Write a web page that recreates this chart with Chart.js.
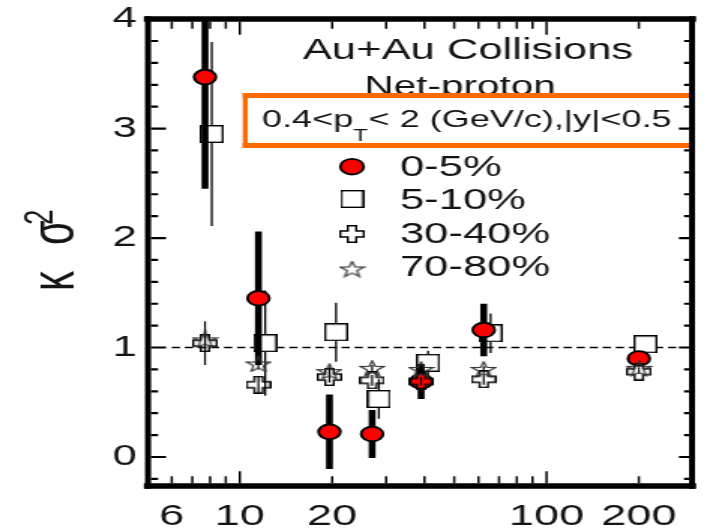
<!DOCTYPE html>
<html>
<head>
<meta charset="utf-8">
<script src="https://cdn.jsdelivr.net/npm/chart.js@4.4.0/dist/chart.umd.min.js"></script>
<style>
  html, body { margin: 0; padding: 0; background: #fff; overflow: hidden; }
  /* the original figure is stretched sideways, so the whole chart is too */
  #wrap { position: absolute; left: 0; top: 0; width: 471px; height: 532px;
          transform: scaleX(1.50106); transform-origin: 0 0; }
</style>
</head>
<body>
<div id="wrap"><canvas id="kurtosis"></canvas></div>
<script>
// collision energies (GeV)
const energies = [7.7, 11.5, 19.6, 27, 39, 62.4, 200];
const energiesShifted = [8.1, 12.1, 20.6, 28.4, 41.1, 65.7, 210]; // 5-10% sits a bit right

const kurt0to5   = [3.47, 1.45, 0.23, 0.21, 0.69, 1.16, 0.90];
const err0to5    = [1.02, 0.61, 0.34, 0.22, 0.16, 0.24, 0.06];
const kurt5to10  = [2.95, 1.04, 1.14, 0.53, 0.86, 1.13, 1.03];
const err5to10   = [0.84, 0.48, 0.27, 0.18, 0.11, 0.18, 0.07];
const kurt30to40 = [1.04, 0.66, 0.73, 0.70, 0.69, 0.71, 0.78];
const err30to40  = [0.20, 0.08, 0.05, 0.05, 0.04, 0.05, 0.02];
const kurt70to80 = [1.07, 0.85, 0.78, 0.81, 0.80, 0.80, 0.81];
const err70to80  = [0.10, 0.05, 0.04, 0.03, 0.03, 0.03, 0.01];

const refLineX = [6, 265];
const refLineY = [1, 1];

const xLabelTicks = [6, 10, 20, 100, 200];
const xMajorTicks = [10, 100];
const xMinorTicks = [6, 7, 8, 9, 20, 30, 40, 50, 60, 70, 80, 90, 200];
const yLabelTicks = [0, 1, 2, 3, 4];
const yMinorTicks = [-0.2, 0.2, 0.4, 0.6, 0.8, 1.2, 1.4, 1.6, 1.8, 2.2, 2.4, 2.6, 2.8, 3.2, 3.4, 3.6, 3.8];

const legendLabels = ['0-5%', '5-10%', '30-40%', '70-80%'];

const SX = 707 / 471;           // sideways stretch of the wrapper
const FONT = '"Liberation Sans", Arial, sans-serif';
const INK = '#141414';

function toPts(xs, ys) {
  return xs.map((x, i) => ({ x: x, y: ys[i] }));
}

// marker pictures
function makeSquare() {
  const c = document.createElement('canvas');
  c.width = 16; c.height = 18;
  const g = c.getContext('2d');
  g.fillStyle = '#fff';
  g.fillRect(0.7, 0.7, 14.6, 16.6);
  g.strokeStyle = '#000';
  g.lineWidth = 1.4;
  g.strokeRect(0.7, 0.7, 14.6, 16.6);
  return c;
}

function makeCross() {
  const c = document.createElement('canvas');
  c.width = 17; c.height = 18;
  const g = c.getContext('2d');
  const w = 15.6, h = 16.6, ax = 5.6, ay = 6, ox = 0.7, oy = 0.7;
  const x1 = ox + (w - ax) / 2, x2 = x1 + ax;
  const y1 = oy + (h - ay) / 2, y2 = y1 + ay;
  g.beginPath();
  g.moveTo(x1, oy); g.lineTo(x2, oy); g.lineTo(x2, y1); g.lineTo(ox + w, y1);
  g.lineTo(ox + w, y2); g.lineTo(x2, y2); g.lineTo(x2, oy + h); g.lineTo(x1, oy + h);
  g.lineTo(x1, y2); g.lineTo(ox, y2); g.lineTo(ox, y1); g.lineTo(x1, y1);
  g.closePath();
  g.strokeStyle = '#000';
  g.lineWidth = 1.4;
  g.stroke();
  return c;
}

function makeStar() {
  const c = document.createElement('canvas');
  c.width = 18; c.height = 17;
  const g = c.getContext('2d');
  const cx = 9, cy = 9.2, R = 8.2, r = 3.4;
  g.beginPath();
  for (let i = 0; i < 10; i++) {
    const rad = i % 2 === 0 ? R : r;
    const a = -Math.PI / 2 + i * Math.PI / 5;
    const px = cx + rad * Math.cos(a), py = cy + rad * Math.sin(a);
    if (i === 0) g.moveTo(px, py); else g.lineTo(px, py);
  }
  g.closePath();
  g.strokeStyle = '#333';
  g.lineWidth = 1.2;
  g.stroke();
  return c;
}

const squareImg = makeSquare();
const crossImg = makeCross();
const starImg = makeStar();

// error bars go under each dataset's own markers
const errorBars = {
  id: 'errorBars',
  beforeDatasetDraw(chart, args) {
    const ds = chart.data.datasets[args.index];
    if (!ds.errors) return;
    const ctx = chart.ctx, a = chart.chartArea;
    const xs = chart.scales.x, ys = chart.scales.y;
    ctx.save();
    ctx.beginPath();
    ctx.rect(a.left, a.top, a.right - a.left, a.bottom - a.top);
    ctx.clip();
    ctx.strokeStyle = '#000';
    ctx.lineWidth = ds.errWidth;
    ds.data.forEach((p, i) => {
      const px = xs.getPixelForValue(p.x);
      ctx.beginPath();
      ctx.moveTo(px, ys.getPixelForValue(p.y - ds.errors[i]));
      ctx.lineTo(px, ys.getPixelForValue(p.y + ds.errors[i]));
      ctx.stroke();
    });
    ctx.restore();
  }
};

// texts, box, legend, frame and ticks
const decorations = {
  id: 'decorations',
  afterDraw(chart) {
    const ctx = chart.ctx, a = chart.chartArea;
    const xs = chart.scales.x, ys = chart.scales.y;
    ctx.save();
    ctx.fillStyle = INK;
    ctx.textBaseline = 'alphabetic';

    ctx.textAlign = 'center';
    ctx.font = '29px ' + FONT;
    ctx.fillText('Au+Au Collisions', 468 / SX, 58.5);
    ctx.font = '27px ' + FONT;
    ctx.fillText('Net-proton', 460 / SX, 94.5);

    // orange box
    const bl = 242.7 / SX, br = 694 / SX, bt = 93, bb = 148;
    ctx.fillStyle = '#fff';
    ctx.fillRect(bl, bt, br - bl, bb - bt);
    ctx.fillStyle = '#ff6a00';
    ctx.fillRect(bl, bt, br - bl, 5);
    ctx.fillRect(bl, bb - 5, br - bl, 5);
    ctx.fillRect(bl, bt, 5 / SX, bb - bt);
    ctx.fillRect(br - 5 / SX, bt, 5 / SX, bb - bt);

    ctx.fillStyle = INK;
    ctx.textAlign = 'left';
    let tx = 262 / SX;
    ctx.font = '24px ' + FONT;
    ctx.fillText('0.4<p', tx, 127);
    tx += ctx.measureText('0.4<p').width;
    ctx.font = '16px ' + FONT;
    ctx.fillText('T', tx, 141);
    tx += ctx.measureText('T').width + 0.5;
    ctx.font = '24px ' + FONT;
    ctx.fillText('< 2 (GeV/c),|y|<0.5', tx, 127);

    // legend
    const lx = 352 / SX;
    const symY = [166.7, 199, 234, 269];
    const textY = [176, 209, 243, 276];
    ctx.beginPath();
    ctx.arc(lx, symY[0], 7.8, 0, Math.PI * 2);
    ctx.fillStyle = '#ff0000';
    ctx.fill();
    ctx.lineWidth = 1.8;
    ctx.strokeStyle = '#000';
    ctx.stroke();
    [squareImg, crossImg, starImg].forEach((img, i) => {
      ctx.drawImage(img, lx - img.width / 2, symY[i + 1] - img.height / 2);
    });
    ctx.fillStyle = INK;
    ctx.font = '29px ' + FONT;
    legendLabels.forEach((t, i) => ctx.fillText(t, 400 / SX, textY[i]));

    // y title, rotated
    ctx.save();
    ctx.translate(49.3, 0);
    ctx.rotate(-Math.PI / 2);
    ctx.font = '40px ' + FONT;
    ctx.fillText('κ', -291, 0);
    ctx.fillText('σ', -245, 0);
    ctx.font = '28px ' + FONT;
    ctx.fillText('2', -225, -14);
    ctx.restore();

    // frame, stroked side by side: horizontal sides 5-6px, vertical 6px after the stretch
    ctx.strokeStyle = '#000';
    ctx.lineCap = 'square';
    ctx.lineWidth = 5.5;
    ctx.beginPath();
    ctx.moveTo(a.left, a.top); ctx.lineTo(a.right, a.top);
    ctx.moveTo(a.left, a.bottom); ctx.lineTo(a.right, a.bottom);
    ctx.stroke();
    ctx.lineCap = 'butt';
    ctx.lineWidth = 6 / SX;
    ctx.beginPath();
    ctx.moveTo(a.left, a.top - 2.75); ctx.lineTo(a.left, a.bottom + 2.75);
    ctx.moveTo(a.right, a.top - 2.75); ctx.lineTo(a.right, a.bottom + 2.75);
    ctx.stroke();
    const hw = 3 / SX;

    // ticks
    ctx.lineWidth = 1.5;
    const xTick = (v, lenB, lenT) => {
      const px = xs.getPixelForValue(v);
      ctx.beginPath();
      ctx.moveTo(px, a.bottom - 2.75); ctx.lineTo(px, a.bottom - 2.75 - lenB);
      ctx.moveTo(px, a.top + 2.75); ctx.lineTo(px, a.top + 2.75 + lenT);
      ctx.stroke();
    };
    xMajorTicks.forEach(v => xTick(v, 12, 13));
    xMinorTicks.forEach(v => xTick(v, 7, 7));
    ctx.lineWidth = 2.2;
    const yTick = (v, lenL, lenR) => {
      const py = ys.getPixelForValue(v);
      ctx.beginPath();
      ctx.moveTo(a.left + hw, py); ctx.lineTo(a.left + hw + lenL, py);
      ctx.moveTo(a.right - hw, py); ctx.lineTo(a.right - hw - lenR, py);
      ctx.stroke();
    };
    yLabelTicks.forEach(v => yTick(v, 10, 6.7));
    yMinorTicks.forEach(v => yTick(v, 4.7, 3.3));
    ctx.restore();
  }
};

const ctx = document.getElementById('kurtosis').getContext('2d');

new Chart(ctx, {
  type: 'scatter',
  data: {
    datasets: [
      {
        type: 'line',
        data: toPts(refLineX, refLineY),
        borderColor: '#000',
        borderWidth: 1.6,
        borderDash: [5.5, 3.2],
        pointRadius: 0,
        fill: false,
        order: 10
      },
      {
        label: '5-10%',
        data: toPts(energiesShifted, kurt5to10),
        errors: err5to10,
        errWidth: 1.3,
        pointStyle: squareImg,
        pointRadius: 9,
        order: 4
      },
      {
        label: '0-5%',
        data: toPts(energies, kurt0to5),
        errors: err0to5,
        errWidth: 4.6,
        pointStyle: 'circle',
        pointRadius: 7.3,
        borderWidth: 1.9,
        borderColor: '#000',
        backgroundColor: '#ff0000',
        order: 3
      },
      {
        label: '30-40%',
        data: toPts(energies, kurt30to40),
        errors: err30to40,
        errWidth: 1.2,
        pointStyle: crossImg,
        pointRadius: 9,
        order: 2
      },
      {
        label: '70-80%',
        data: toPts(energies, kurt70to80),
        errors: err70to80,
        errWidth: 1.2,
        pointStyle: starImg,
        pointRadius: 9,
        order: 1
      }
    ]
  },
  options: {
    responsive: true,
    maintainAspectRatio: false,
    animation: false,
    events: [],
    layout: { padding: { top: 14, right: 471 - 702 / SX, bottom: 0, left: 0 } },
    plugins: {
      legend: { display: false },
      tooltip: { enabled: false }
    },
    scales: {
      x: {
        type: 'logarithmic',
        min: 5.02,
        max: 298,
        grid: { display: false, drawTicks: false },
        border: { display: false },
        afterBuildTicks: scale => { scale.ticks = xLabelTicks.map(v => ({ value: v })); },
        afterFit: scale => { scale.height = 532 - 486; },
        ticks: {
          autoSkip: false,
          maxRotation: 0,
          padding: 12.5,
          color: INK,
          font: { family: FONT, size: 30 },
          callback: v => String(v)
        }
      },
      y: {
        min: -0.265,
        max: 4,
        grid: { display: false, drawTicks: false },
        border: { display: false },
        afterBuildTicks: scale => { scale.ticks = yLabelTicks.map(v => ({ value: v })); },
        afterFit: scale => { scale.width = 148 / SX; },
        ticks: {
          padding: 7.5,
          color: INK,
          font: { family: FONT, size: 29, lineHeight: 0.8 },
          callback: v => String(v)
        }
      }
    }
  },
  plugins: [errorBars, decorations]
});
</script>
</body>
</html>
